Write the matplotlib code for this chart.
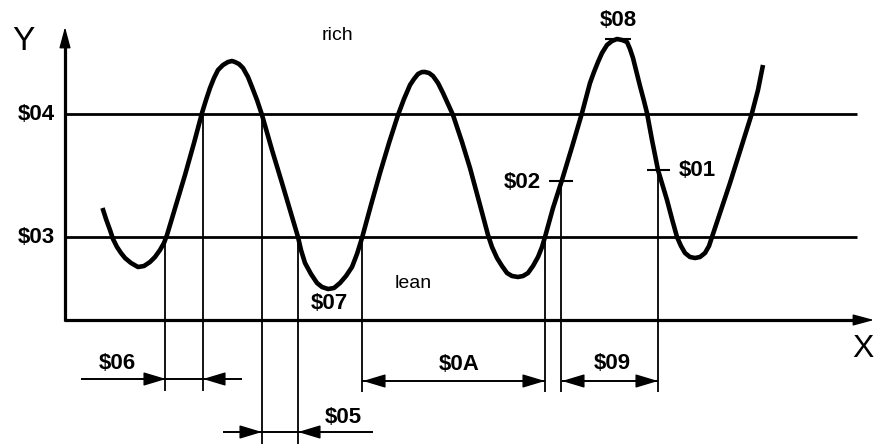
import matplotlib.pyplot as plt

plt.rcParams['font.family'] = ['Liberation Sans', 'DejaVu Sans']

# Signal curve (picture units, y grows downwards)
curve_x = [102.5, 106, 110, 113, 117, 121, 125, 131, 138, 144, 150, 155, 160,
           164, 167, 176, 185, 194, 202, 206, 210, 214, 218, 223, 228, 232,
           235, 239, 243, 248, 252, 257, 262, 272, 282, 290, 298, 301, 305,
           311, 317, 322, 328, 334, 340, 346, 352, 357, 362, 371, 380, 389,
           398, 404, 410, 414, 418, 422, 425, 429, 433, 438, 443, 448, 453,
           462, 470, 480, 488, 492, 497, 502, 507, 512, 518, 523, 528, 533,
           538, 542, 545, 553, 562, 572, 582, 586, 590, 594, 598, 602, 607,
           612, 617, 622, 627, 630, 633, 636, 640, 644, 647, 652, 658, 667,
           672, 677, 681, 685, 690, 695, 700, 705, 709, 712, 721, 730, 741,
           752, 758, 763]
curve_y = [208, 219, 230, 239, 247, 253, 258, 263, 267, 266, 262, 257, 250,
           243, 235, 205, 175, 143, 113, 100, 88, 78, 70, 65, 62, 61,
           62, 64, 68, 77, 87, 100, 115, 150, 183, 210, 237, 250, 263,
           274, 283, 287, 289, 288, 283, 276, 267, 254, 238, 205, 173, 143,
           115, 99, 85, 79, 74, 72, 72, 73, 76, 83, 93, 104, 115,
           142, 168, 205, 235, 247, 258, 266, 273, 276, 277, 276, 273, 266,
           257, 247, 237, 208, 180, 147, 113, 98, 83, 72, 62, 53, 45,
           41, 39, 40, 42, 49, 58, 70, 86, 101, 113, 140, 170, 200,
           219, 237, 246, 253, 257, 258, 257, 253, 246, 237, 210, 183, 148,
           113, 90, 65]

# thresholds and axes
level_rich = 114   # $04
level_lean = 237   # $03
origin_x, origin_y = 65, 320
levels_end = 857

# drop lines from the curve down to the dimension lines
drop_x = [165, 203, 262, 298, 362, 545, 561, 658]
drop_top = [237, 114, 114, 237, 237, 237, 181, 170]
drop_bottom = [391, 391, 444, 444, 392, 392, 392, 392]

# dimension lines: start, end, height
dim_x0 = [81, 223, 362, 562]
dim_x1 = [242, 373, 545, 658]
dim_y = [379, 432, 381, 381]

# arrow heads: tip x, height, direction (+1 points right)
head_x = [166, 203, 262, 298, 363, 545, 562, 658]
head_y = [379, 379, 432, 432, 381, 381, 381, 381]
head_dir = [1, -1, 1, -1, -1, 1, -1, 1]

# small ticks on the curve
tick_x0 = [605, 549, 647]
tick_x1 = [631, 573, 670]
tick_y = [39, 181, 170]

# labels
lab_text = ['$04', '$03', '$06', '$05', '$0A', '$09', '$07', '$08', '$02', '$01']
lab_x = [36, 36, 117, 343, 459, 612, 329, 618, 522, 697]
lab_y = [114, 237, 363, 417, 364, 363, 303, 20, 182, 170]

fig = plt.figure(figsize=(8.75, 4.44), dpi=100)
ax = fig.add_axes([0, 0, 1, 1])
ax.set_xlim(0, 875)
ax.set_ylim(444, 0)
ax.axis('off')

# axes with arrows
ax.plot([origin_x, origin_x], [origin_y + 1, 44], color='black', lw=2.3, solid_capstyle='butt')
ax.plot([origin_x - 1, 858], [origin_y, origin_y], color='black', lw=2.3, solid_capstyle='butt')
ax.annotate('', xy=(origin_x, 27), xytext=(origin_x, 47),
            arrowprops=dict(arrowstyle='-|>,head_length=13,head_width=3.5',
                            mutation_scale=1, color='black', lw=1,
                            shrinkA=0, shrinkB=0))
ax.annotate('', xy=(874, origin_y), xytext=(855, origin_y),
            arrowprops=dict(arrowstyle='-|>,head_length=13,head_width=3.5',
                            mutation_scale=1, color='black', lw=1,
                            shrinkA=0, shrinkB=0))

# rich / lean levels
for lv in [level_rich, level_lean]:
    ax.plot([origin_x, levels_end], [lv, lv], color='black', lw=2.0, solid_capstyle='butt')

for x, y0, y1 in zip(drop_x, drop_top, drop_bottom):
    ax.plot([x, x], [y0, y1], color='black', lw=1.3, solid_capstyle='butt')

for x0, x1, y in zip(dim_x0, dim_x1, dim_y):
    ax.plot([x0, x1], [y, y], color='black', lw=1.4, solid_capstyle='butt')

for x, y, d in zip(head_x, head_y, head_dir):
    ax.annotate('', xy=(x, y), xytext=(x - d * 20, y),
                arrowprops=dict(arrowstyle='-|>,head_length=14,head_width=4.2',
                                mutation_scale=1, color='black', lw=1,
                                shrinkA=0, shrinkB=0))

for x0, x1, y in zip(tick_x0, tick_x1, tick_y):
    ax.plot([x0, x1], [y, y], color='black', lw=1.5, solid_capstyle='butt')

# the signal
ax.plot(curve_x, curve_y, color='black', lw=3.3, solid_joinstyle='round',
        solid_capstyle='butt')

for t, x, y in zip(lab_text, lab_x, lab_y):
    ax.text(x, y, t, fontsize=16, fontweight='bold', ha='center', va='center',
            parse_math=False)

ax.text(337, 35, 'rich', fontsize=14, ha='center', va='center')
ax.text(413, 283, 'lean', fontsize=14, ha='center', va='center')
ax.text(23, 42, 'Y', fontsize=24, ha='center', va='center')
ax.text(863, 349, 'X', fontsize=23, ha='center', va='center')

fig.savefig('out.png', dpi=100)
